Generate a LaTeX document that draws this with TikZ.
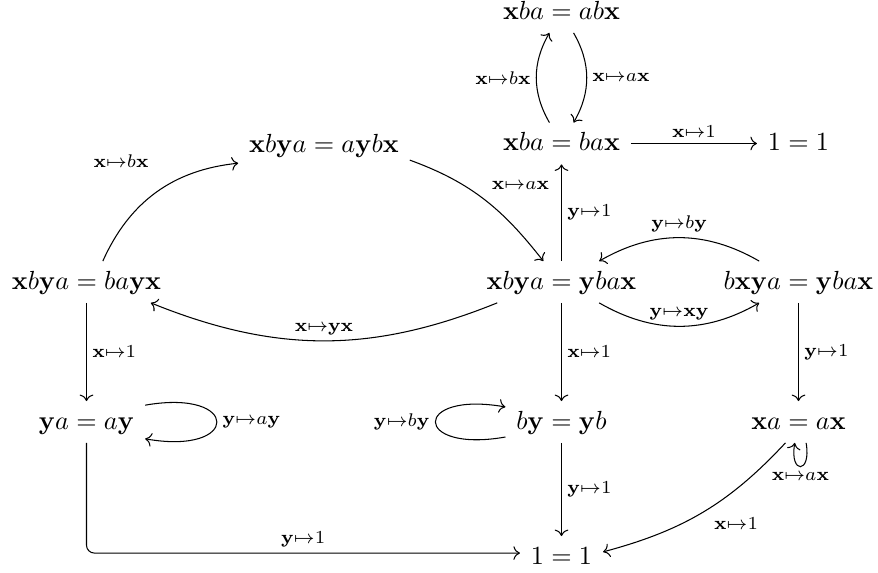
\documentclass[tikz,border=0pt]{standalone}
\usepackage{amsmath,amssymb}
\usepackage{tikz}
\usetikzlibrary{arrows.meta, positioning, calc}

\newcommand{\vx}{\mathbf{x}}
\newcommand{\vy}{\mathbf{y}}

\tikzset{
  obj/.style={inner sep=4pt, text height=1.5ex, text depth=.25ex},
  lbl/.style={inner sep=2pt},
  arr/.style={->},
}

\begin{document}
\begin{tikzpicture}[x=0.01342cm, y=0.01342cm]
  \useasboundingbox (0,0) rectangle (878,-573);
  % relations
  \node[obj] (abx)  at (561.5,-12)    {$\vx ba = ab\vx$};
  \node[obj] (bax)  at (561.5,-143.5) {$\vx ba = ba\vx$};
  \node[obj] (oneT) at (798.5,-143.5) {$1 = 1$};
  \node[obj] (aybx) at (324,-145)     {$\vx b\vy a = a\vy b\vx$};
  \node[obj] (bayx) at (86.5,-282)    {$\vx b\vy a = ba\vy\vx$};
  \node[obj] (ybax) at (561.5,-282)   {$\vx b\vy a = \vy ba\vx$};
  \node[obj] (bxya) at (798.5,-282)   {$b\vx\vy a = \vy ba\vx$};
  \node[obj] (ya)   at (86.5,-422)    {$\vy a = a\vy$};
  \node[obj] (by)   at (561.5,-422)   {$b\vy = \vy b$};
  \node[obj] (xa)   at (798.5,-422)   {$\vx a = a\vx$};
  \node[obj] (oneB) at (561.5,-557)   {$1 = 1$};

  % substitutions
  \draw[arr] (bax) to[bend left=30] node[lbl,left]{$\scriptstyle\vx\mapsto b\vx$} (abx);
  \draw[arr] (abx) to[bend left=30] node[lbl,right]{$\scriptstyle\vx\mapsto a\vx$} (bax);
  \draw[arr] (bax) -- node[lbl,above]{$\scriptstyle\vx\mapsto 1$} (oneT);
  \draw[arr] (bayx.52) to[bend left=30] node[lbl,pos=0.6,above left,xshift=-6pt,yshift=4pt]{$\scriptstyle\vx\mapsto b\vx$} (aybx.192);
  \draw[arr] (aybx.350) to[out=-20, in=128] node[lbl,pos=0.45,above right,xshift=3pt]{$\scriptstyle\vx\mapsto a\vx$} (ybax.131);
  \draw[arr] (ybax) -- node[lbl,right]{$\scriptstyle\vy\mapsto 1$} (bax);
  \draw[arr] (ybax.198) to[bend left=22] node[lbl,above]{$\scriptstyle\vx\mapsto\vy\vx$} (bayx.342);
  \draw[arr] (bxya.152) to[bend right=30] node[lbl,above]{$\scriptstyle\vy\mapsto b\vy$} (ybax.29);
  \draw[arr] (ybax.331) to[bend right=30] node[lbl,above]{$\scriptstyle\vy\mapsto\vx\vy$} (bxya.208);
  \draw[arr] (ybax) -- node[lbl,right]{$\scriptstyle\vx\mapsto 1$} (by);
  \draw[arr] (bxya) -- node[lbl,right]{$\scriptstyle\vy\mapsto 1$} (xa);
  \draw[arr] (bayx) -- node[lbl,right]{$\scriptstyle\vx\mapsto 1$} (ya);
  \draw[arr] (ya.16) to[out=10, in=-10, distance=1.3cm] node[lbl,right]{$\scriptstyle\vy\mapsto a\vy$} (ya.344);
  \draw[arr] (by.195) to[out=190, in=170, distance=1.27cm] node[lbl,left]{$\scriptstyle\vy\mapsto b\vy$} (by.165);
  \draw[arr] (xa.290) to[out=-80, in=-100, distance=0.43cm] node[lbl,below]{$\scriptstyle\vx\mapsto a\vx$} (xa.260);
  \draw[arr] (xa.238) to[out=227, in=15] node[lbl,below right,xshift=2pt]{$\scriptstyle\vx\mapsto 1$} (oneB.7);
  \draw[arr] (by) -- node[lbl,right]{$\scriptstyle\vy\mapsto 1$} (oneB);
  \draw[arr,rounded corners=3pt] (ya) |- node[lbl,pos=0.75,above]{$\scriptstyle\vy\mapsto 1$} ([yshift=1.5pt]oneB.west);
\end{tikzpicture}
\end{document}
